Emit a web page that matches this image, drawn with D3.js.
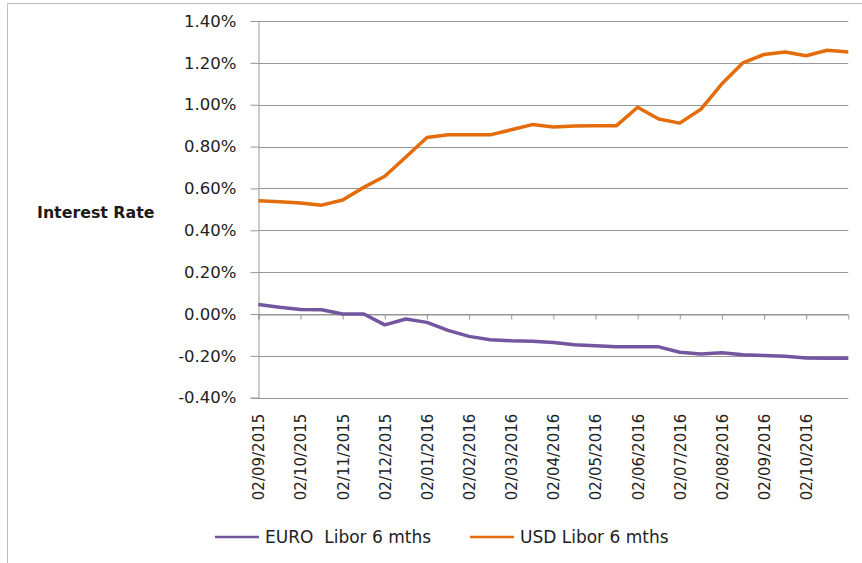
<!DOCTYPE html>
<html>
<head>
<meta charset="utf-8">
<script src="https://cdn.jsdelivr.net/npm/d3@7"></script>
<style>
  body { margin: 0; background: #fff; }
  svg text { font-family: "DejaVu Sans", sans-serif; }
</style>
</head>
<body>
<div id="chart"></div>
<script>
// semi-monthly fixings
const dates = [
  "02/09/2015", "17/09/2015", "02/10/2015", "17/10/2015", "02/11/2015", "17/11/2015",
  "02/12/2015", "17/12/2015", "02/01/2016", "17/01/2016", "02/02/2016", "17/02/2016",
  "02/03/2016", "17/03/2016", "02/04/2016", "17/04/2016", "02/05/2016", "17/05/2016",
  "02/06/2016", "17/06/2016", "02/07/2016", "17/07/2016", "02/08/2016", "17/08/2016",
  "02/09/2016", "17/09/2016", "02/10/2016", "17/10/2016", "31/10/2016",
];

const euroLibor = [
  0.045, 0.032, 0.022, 0.020, 0.000, 0.000, -0.052, -0.024, -0.040, -0.078,
  -0.107, -0.123, -0.128, -0.130, -0.136, -0.147, -0.152, -0.157, -0.156, -0.157,
  -0.183, -0.191, -0.185, -0.195, -0.198, -0.202, -0.210, -0.211, -0.211,
];

const usdLibor = [
  0.541, 0.536, 0.530, 0.520, 0.545, 0.605, 0.658, 0.750, 0.843, 0.856,
  0.857, 0.856, 0.880, 0.905, 0.894, 0.898, 0.899, 0.900, 0.988, 0.932,
  0.912, 0.978, 1.100, 1.200, 1.240, 1.252, 1.234, 1.260, 1.252,
];

const xTickLabels = [
  "02/09/2015", "02/10/2015", "02/11/2015", "02/12/2015", "02/01/2016", "02/02/2016",
  "02/03/2016", "02/04/2016", "02/05/2016", "02/06/2016", "02/07/2016", "02/08/2016",
  "02/09/2016", "02/10/2016",
];

const yTicks = [-0.4, -0.2, 0, 0.2, 0.4, 0.6, 0.8, 1.0, 1.2, 1.4];

const series = [
  { name: "EURO  Libor 6 mths", values: euroLibor, color: "#7356a0" },
  { name: "USD Libor 6 mths", values: usdLibor, color: "#e46c0a" },
];

const width = 862,
  height = 563;
const plotLeft = 258.4,
  plotRight = 848.3,
  plotTop = 21,
  plotBottom = 397.7;

const svg = d3
  .select("#chart")
  .append("svg")
  .attr("width", width)
  .attr("height", height);

// chart area frame
svg
  .append("path")
  .attr("d", `M7.5,${height} V3.5 H${width}`)
  .attr("fill", "none")
  .attr("stroke", "#bfbfbf")
  .attr("stroke-width", 1);

const x = d3.scalePoint().domain(dates).range([plotLeft, plotRight]);
const y = d3.scaleLinear().domain([-0.4, 1.4]).range([plotBottom, plotTop]);

// gridlines
svg
  .append("g")
  .selectAll("line")
  .data(yTicks)
  .enter()
  .append("line")
  .attr("x1", plotLeft)
  .attr("x2", plotRight)
  .attr("y1", (d) => Math.round(y(d)) + 0.5)
  .attr("y2", (d) => Math.round(y(d)) + 0.5)
  .attr("stroke", "#969696")
  .attr("stroke-width", 1);

// y axis
const yAxis = svg
  .append("g")
  .attr("transform", `translate(${Math.round(plotLeft) + 0.5},0)`)
  .call(
    d3
      .axisLeft(y)
      .tickValues(yTicks)
      .tickSize(8)
      .tickPadding(14)
      .tickFormat((d) => d3.format(".2f")(d).replace("−", "-") + "%")
  );
yAxis.select(".domain").attr("stroke", "#969696");
yAxis.selectAll(".tick line").attr("stroke", "#969696");
yAxis
  .selectAll(".tick text")
  .attr("font-size", "16.5px")
  .attr("fill", "#222")
  .attr("font-family", "DejaVu Sans");

// x axis ticks along the zero line
const xAxis = svg
  .append("g")
  .attr("transform", `translate(0,${Math.round(y(0)) + 0.5})`)
  .call(d3.axisBottom(x).tickValues(xTickLabels).tickSize(5).tickFormat(""));
xAxis.select(".domain").attr("stroke", "#969696");
xAxis.selectAll(".tick line").attr("stroke", "#969696");

// x labels sit below the plot
const xLabels = svg
  .append("g")
  .attr("transform", `translate(0,${plotBottom})`)
  .call(d3.axisBottom(x).tickValues(xTickLabels).tickSize(0));
xLabels.select(".domain").remove();
xLabels
  .selectAll(".tick text")
  .attr("transform", "rotate(-90)")
  .attr("text-anchor", "end")
  .attr("x", -16)
  .attr("y", 0)
  .attr("dy", "0.36em")
  .attr("font-size", "15px")
  .attr("fill", "#222")
  .attr("font-family", "DejaVu Sans");

// y title
svg
  .append("text")
  .attr("x", 37)
  .attr("y", 212)
  .attr("dy", "0.35em")
  .attr("font-size", "15.8px")
  .attr("font-weight", "bold")
  .attr("fill", "#1a1a1a")
  .text("Interest Rate");

// lines
const line = d3
  .line()
  .x((d, i) => x(dates[i]))
  .y((d) => y(d));

svg
  .append("g")
  .selectAll("path")
  .data(series)
  .enter()
  .append("path")
  .attr("d", (s) => line(s.values))
  .attr("fill", "none")
  .attr("stroke", (s) => s.color)
  .attr("stroke-width", 3.5)
  .attr("stroke-linejoin", "round");

// legend
const legendX = [215, 470];
const legend = svg
  .append("g")
  .selectAll("g")
  .data(series)
  .enter()
  .append("g")
  .attr("transform", (d, i) => `translate(${legendX[i]},537)`);
legend
  .append("line")
  .attr("x1", 0)
  .attr("x2", 44)
  .attr("stroke", (d) => d.color)
  .attr("stroke-width", 2.5);
legend
  .append("text")
  .attr("x", 50)
  .attr("dy", "0.35em")
  .attr("font-size", "17px")
  .attr("fill", "#222")
  .attr("xml:space", "preserve")
  .style("white-space", "pre")
  .text((d) => d.name);
</script>
</body>
</html>
